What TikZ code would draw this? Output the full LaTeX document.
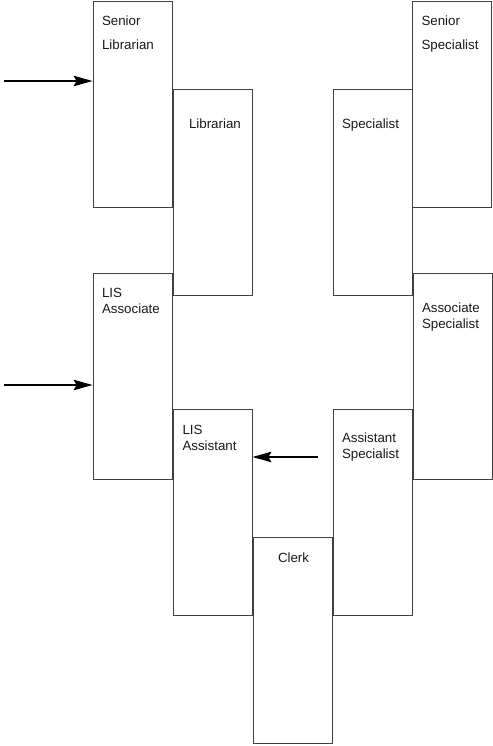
\documentclass[tikz,border=0pt]{standalone}
\usepackage{fontspec}
\setmainfont{Liberation Sans}
\usetikzlibrary{arrows.meta}

\begin{document}
\begin{tikzpicture}[x=1pt, y=-1pt,
	every node/.style={draw=black!75, line width=0.9pt, minimum width=79pt, minimum height=206pt, inner sep=0pt},
	txt/.style={draw=none, minimum width=0pt, minimum height=0pt, anchor=north west, align=left, text=black!90, font=\fontsize{13.33}{16}\selectfont},
	widetxt/.style={txt, font=\fontsize{13.33}{24}\selectfont},
	feed/.style={draw=black, line width=1.2pt, -{Stealth[length=19pt, width=10.5pt, inset=3pt]}}]
	
	\useasboundingbox (0,0) rectangle (492,746);
	
	% library track
	\node (sl) at (132.5,104) {};
	\node (l) at (212.5,192) {};
	\node (lisc) at (132.5,376) {};
	\node (lisa) at (212.5,512) {};
	\node (c) at (292.5,640.5) {};
	
	% specialist track
	\node (as) at (372.5,512) {};
	\node (cs) at (452.5,376) {};
	\node (s) at (372.5,192) {};
	\node (ss) at (452,104) {};
	
	\node[widetxt] (1) at ([shift={(9,14.7)}]sl.north west) {Senior\\Librarian};
	\node[txt] (2) at ([shift={(16,30.3)}]l.north west) {Librarian};
	\node[txt] (3) at ([shift={(9,14.7)}]lisc.north west) {LIS\\Associate};
	\node[txt] (4) at ([shift={(9.5,16.5)}]lisa.north west) {LIS\\Assistant};
	\node[txt] (5) at ([shift={(25,15.3)}]c.north west) {Clerk};
	\node[txt] (6) at ([shift={(9,23.7)}]as.north west) {Assistant\\Specialist};
	\node[txt] (7) at ([shift={(9,30)}]cs.north west) {Associate\\Specialist};
	\node[txt] (8) at ([shift={(9,30)}]s.north west) {Specialist};
	\node[widetxt] (9) at ([shift={(9,14.7)}]ss.north west) {Senior\\Specialist};
	
	\coordinate (in1) at (4,81);
	\coordinate (in2) at (4,385);
	\coordinate (in3) at (318,457);
	
	\path (in1) edge[feed] (in1 -| sl.west);
	\path (in2) edge[feed] (in2 -| lisc.west);
	\path (in3) edge[feed] (in3 -| lisa.east);
	
\end{tikzpicture}
\end{document}
